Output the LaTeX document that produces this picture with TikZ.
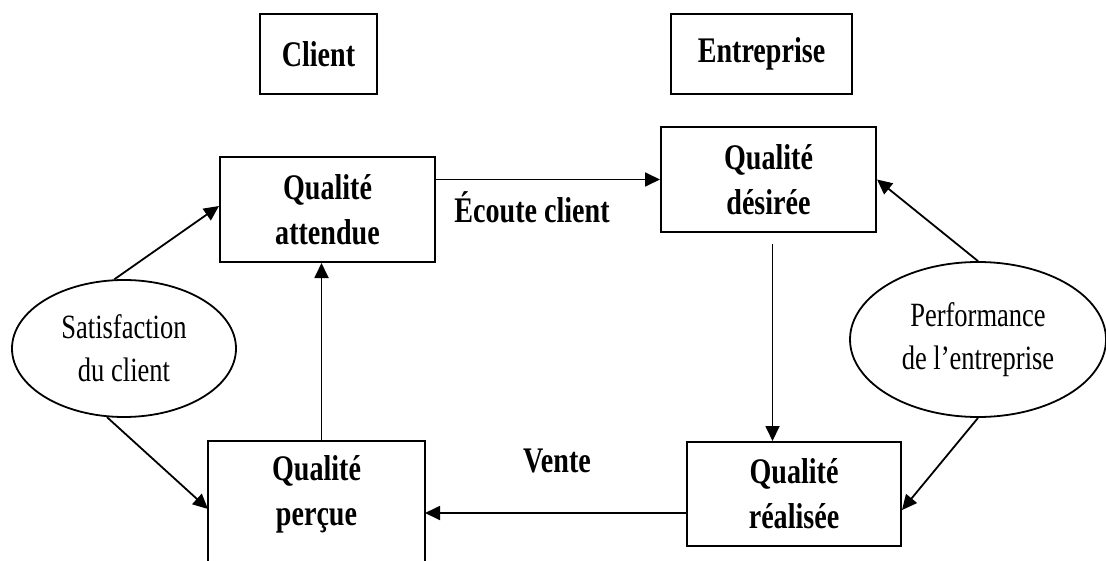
\documentclass[tikz,border=0pt]{standalone}
\usepackage{fontspec}
\setmainfont{Liberation Serif}[FakeStretch=0.78]
\usetikzlibrary{shapes.geometric,arrows.meta}

\begin{document}
\begin{tikzpicture}[x=0.5pt,y=-0.5pt,
  box/.style={draw,line width=1pt,align=center,inner sep=0pt,
    font=\fontsize{18}{22.5}\selectfont\bfseries},
  bubble/.style={draw,ellipse,line width=0.9pt,align=center,inner sep=0pt,
    font=\fontsize{17}{21.5}\selectfont},
  lbl/.style={font=\fontsize{18}{22.5}\selectfont\bfseries,anchor=base},
  fl/.style={-{Triangle[length=7.5pt,width=7pt]},line width=0.9pt}]
  \useasboundingbox (0,0) rectangle (1106,561);
  \clip (0,0) rectangle (1106,561);

  \node[box,minimum width=58.5pt,minimum height=40pt] (client) at (318.5,54) {Client};
  \node[box,minimum width=90.5pt,minimum height=40pt] (entr) at (761.5,54) {Entreprise};

  \node[box,minimum width=107.5pt,minimum height=52.5pt] (att) at (327.5,209.5) {Qualité\\attendue};
  \node[box,minimum width=107.5pt,minimum height=52.5pt] (des) at (768.5,179.5) {Qualité\\désirée};
  \node[box,minimum width=107pt,minimum height=52pt] (real) at (794,494) {Qualité\\réalisée};
  \node[box,draw=none,minimum width=107.5pt,minimum height=52pt] (perc) at (316.5,494) {Qualité\\perçue};
  % open at the bottom, runs off the page
  \draw[line width=1pt] ([yshift=-20pt]perc.south west) -- (perc.north west)
    -- (perc.north east) -- ([yshift=-20pt]perc.south east);

  \node[bubble,minimum width=112pt,minimum height=68.5pt] (satis) at (124,348.5) {Satisfaction\\du client};
  \node[bubble,minimum width=128pt,minimum height=77.5pt] (perf) at (978,339.5) {Performance\\de l’entreprise};

  \draw[fl] (satis.98) -- ([yshift=1.75pt]att.west);
  \draw[fl] (satis.256) -- ([yshift=-7.5pt]perc.west);
  \draw[fl] ([xshift=2.5pt]perc.north) -- ([xshift=2.5pt]perc.north |- att.south);
  \draw[fl] (att.east |- des.west) -- (des.west);
  \draw[fl] ([xshift=2pt,yshift=-5.5pt]des.south) -- ([xshift=2pt]des.south |- real.north);
  \draw[fl] (perf.north) -- (des.east);
  \draw[fl] (perf.south) -- ([yshift=-8pt]real.east);
  \draw[fl] ([yshift=-9.5pt]real.west) -- ([yshift=-9.5pt]real.west -| perc.east);

  \node[lbl] (ecoute) at (532,222) {Écoute client};
  \node[lbl] (vente) at (557,472) {Vente};
\end{tikzpicture}
\end{document}
